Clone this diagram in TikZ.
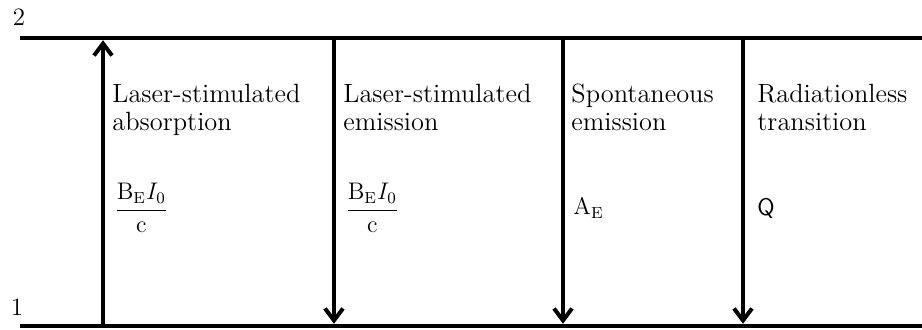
\documentclass[tikz,border=0pt]{standalone}
\usepackage{amsmath}
\usetikzlibrary{arrows.meta}
\tikzset{
    level/.style={
        line width=2.4pt
    },
    flow/.style={
        -{Straight Barb[length=6pt,width=9pt]},
        line width=2pt,
        shorten >=1.1pt
    },
    lbl/.style={
        anchor=north west,
        align=left,
        inner sep=0pt,
        font=\fontsize{13.2}{14}\selectfont
    },
    rate/.style={
        anchor=west,
        inner sep=0pt,
        font=\fontsize{12}{14}\selectfont
    },
    num/.style={
        inner sep=0pt,
        font=\fontsize{12.5}{14}\selectfont
    }
}
\newcommand{\rmsub}[2]{\mathrm{#1}_{\mathrm{#2}}}

\begin{document}
\begin{tikzpicture}[x=0.5pt,y=-0.5pt]
        \useasboundingbox (0,0) rectangle (922,329);

        % energy levels
        \draw[level] (20,38) -- (922,38);
        \draw[level] (20,326) -- (922,326);
        \node[num] (lev2) at (19,17) {2};
        \node[num] (lev1) at (17,307) {1};

        % transition end points
        \coordinate (up1) at (103,38);
        \coordinate (lo1) at (103,326);
        \coordinate (up2) at (334,38);
        \coordinate (lo2) at (334,326);
        \coordinate (up3) at (563,38);
        \coordinate (lo3) at (563,326);
        \coordinate (up4) at (743,38);
        \coordinate (lo4) at (743,326);

        \draw[flow] (lo1) -- (up1);
        \draw[flow] (up2) -- (lo2);
        \draw[flow] (up3) -- (lo3);
        \draw[flow] (up4) -- (lo4);

        \node[lbl] (absorb) at (112,84) {Laser-stimulated\\absorption};
        \node[lbl] (stimem) at (343,84) {Laser-stimulated\\emission};
        \node[lbl] (sponem) at (571,84) {Spontaneous\\emission};
        \node[lbl] (radless) at (757,84) {Radiationless\\transition};

        \node[rate] (rabs) at (114,208) {$\dfrac{\rmsub{B}{E}I_0}{\mathrm{c}}$};
        \node[rate] (rstim) at (345,208) {$\dfrac{\rmsub{B}{E}I_0}{\mathrm{c}}$};
        \node[rate] (rspon) at (573,208) {$\rmsub{A}{E}$};
        \node[rate] (rrad) at (757,208) {\textsf{Q}};
    \end{tikzpicture}
\end{document}
